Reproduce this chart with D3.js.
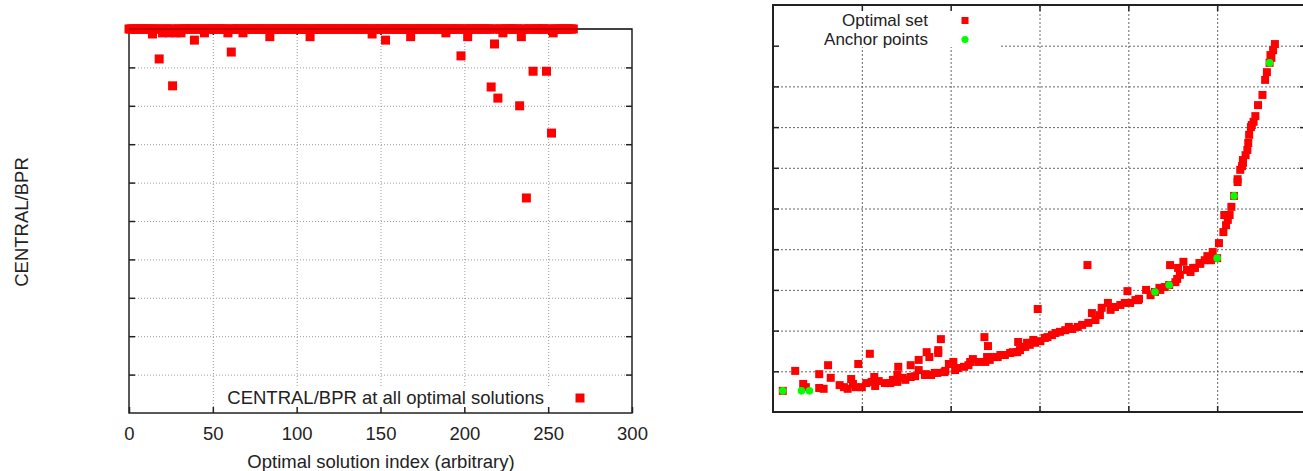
<!DOCTYPE html>
<html lang="en">
<head>
  <meta charset="UTF-8">
  <title>optimal solutions</title>
  <style>
    body { margin: 0; background: #fff; }
    svg { display: block; font-family: "Liberation Sans", Arial, sans-serif; }
    .grid path, .axis path { display: none; }
    .grid line { stroke: #9a9a9a; stroke-dasharray: 1,2; }
    .grid2 line { stroke: #666; stroke-dasharray: 2,2; }
    .axis line { stroke: #222; stroke-width: 1.5; }
    .axis text { font-size: 18.5px; fill: #222; }
  </style>
</head>
<body>
  <svg width="1303" height="471"></svg>
  <script src="https://cdn.jsdelivr.net/npm/d3@7"></script>
  <script>
    // left chart: CENTRAL/BPR per optimal solution (index = position in array)
    var cbprValues = [
      10, 10, 10, 10, 10, 10, 10, 10, 10, 10,
      10, 10, 10, 10, 9.87, 10, 10, 10, 9.22, 10,
      9.9, 10, 10, 10, 9.9, 10, 8.52, 10, 9.9, 10,
      10, 9.9, 10, 10, 10, 10, 10, 10, 10, 9.71,
      10, 10, 10, 10, 10, 9.9, 10, 10, 10, 10,
      10, 10, 10, 10, 10, 10, 10, 10, 10, 9.9,
      10, 9.4, 10, 10, 10, 10, 10, 10, 9.9, 10,
      10, 10, 10, 10, 10, 10, 10, 10, 10, 10,
      10, 10, 10, 10, 9.8, 10, 10, 10, 10, 10,
      10, 10, 10, 10, 10, 10, 10, 10, 10, 10,
      10, 10, 10, 10, 10, 10, 10, 10, 9.8, 10,
      10, 10, 10, 10, 10, 10, 10, 10, 10, 10,
      10, 10, 10, 10, 10, 10, 10, 10, 10, 10,
      10, 10, 10, 10, 10, 10, 10, 10, 10, 10,
      10, 10, 10, 10, 10, 9.87, 10, 10, 10, 10,
      10, 10, 10, 9.71, 10, 10, 10, 10, 10, 10,
      10, 10, 10, 10, 10, 10, 10, 10, 9.8, 10,
      10, 10, 10, 10, 10, 10, 10, 10, 10, 10,
      10, 10, 10, 10, 10, 10, 10, 10, 10, 9.9,
      10, 10, 10, 10, 10, 10, 10, 10, 9.3, 10,
      10, 10, 9.8, 10, 10, 10, 10, 10, 10, 10,
      10, 10, 10, 10, 10, 10, 8.49, 10, 9.61, 10,
      8.2, 10, 10, 9.9, 10, 10, 10, 10, 10, 10,
      10, 10, 10, 8.0, 9.8, 10, 10, 5.6, 10, 10,
      10, 8.9, 10, 10, 10, 10, 10, 10, 10, 8.9,
      10, 10, 7.29, 9.9, 10, 10, 10, 10, 10, 10,
      10, 10, 10, 10, 10, 10
    ];
    var indexTicks = [0, 50, 100, 150, 200, 250, 300];
    var indexGrid = [50, 100, 150, 200, 250];
    var levelGrid = [1, 2, 3, 4, 5, 6, 7, 8, 9];

    // right chart: optimal set and anchor points
    var optX = [0.11, 0.25, 0.34, 0.37, 0.52, 0.52, 0.57, 0.62, 0.65, 0.80,
      0.84, 0.88, 0.93, 1.00, 0.96, 1.09, 1.14, 1.15, 1.19, 1.32,
      1.40, 1.41, 1.40, 1.49, 1.55, 1.55, 1.64, 1.64, 1.72, 1.73,
      1.76, 1.78, 1.86, 1.86, 1.89, 1.85, 1.93, 1.98, 2.03, 2.05,
      2.15, 2.22, 2.25, 2.38, 2.42, 2.39, 2.41, 2.48, 2.56, 2.67,
      2.75, 2.76, 2.86, 2.93, 2.98, 2.80, 3.09, 3.23, 3.33, 3.43,
      3.55, 3.59, 3.70, 3.77, 3.91, 4.02, 4.11, 3.54, 3.99, 4.12,
      4.20, 4.30, 4.35, 4.46, 4.55, 4.47, 4.56, 4.62, 4.66, 4.73,
      4.80, 4.89, 4.93, 4.95, 5.00, 5.02, 5.07, 5.10, 5.08, 5.14,
      5.16, 5.19, 5.23, 5.23, 5.28, 5.29, 5.34, 5.29, 5.35, 5.36,
      5.38, 5.41, 5.43, 5.51, 5.54, 5.56, 5.59, 5.61, 5.63, 5.65,
      1.26, 1.35, 1.46, 1.60, 1.71, 1.82, 1.94, 2.08, 2.20, 2.31,
      2.44, 2.53, 2.61, 2.70, 2.78, 2.84, 2.89, 2.95, 3.01, 3.06,
      3.14, 3.18, 3.29, 3.37, 3.48, 3.63, 3.68, 3.80, 3.85, 3.96,
      4.08, 4.25, 4.36, 4.41, 4.53, 4.58, 4.70, 4.75, 4.81, 4.86,
      4.92, 0.75, 0.90, 1.05, 1.11, 5.12, 5.26, 5.32, 5.39, 5.46,
      5.60];
    var optY = [0.52, 1.01, 0.69, 0.61, 0.93, 0.59, 0.57, 1.15, 0.84, 0.61,
      0.57, 0.81, 0.61, 0.61, 1.18, 1.43, 0.86, 0.64, 0.76, 0.71,
      0.74, 1.11, 0.91, 0.79, 1.15, 0.86, 1.28, 1.03, 0.93, 1.47,
      1.35, 0.91, 1.52, 1.45, 1.79, 0.96, 0.98, 1.18, 1.23, 1.03,
      1.11, 1.23, 1.30, 1.84, 1.62, 1.23, 1.35, 1.35, 1.40, 1.45,
      1.47, 1.72, 1.70, 1.77, 2.53, 1.60, 1.84, 1.97, 2.09, 2.09,
      2.19, 2.43, 2.56, 2.68, 2.63, 2.68, 2.75, 3.61, 2.97, 2.78,
      3.00, 2.95, 3.05, 3.12, 3.27, 3.61, 3.54, 3.69, 3.49, 3.54,
      3.66, 3.83, 3.73, 3.93, 3.78, 4.15, 4.42, 4.59, 4.84, 4.84,
      5.04, 5.31, 5.65, 5.72, 6.04, 6.12, 6.44, 6.19, 6.61, 6.81,
      7.00, 7.13, 7.27, 7.79, 8.16, 8.35, 8.58, 8.70, 8.89, 9.04,
      0.71, 0.79, 0.84, 0.88, 0.91, 0.96, 1.01, 1.08, 1.15, 1.23,
      1.28, 1.35, 1.40, 1.47, 1.52, 1.60, 1.65, 1.70, 1.74, 1.82,
      1.89, 1.94, 2.01, 2.04, 2.14, 2.26, 2.38, 2.51, 2.58, 2.68,
      2.75, 2.87, 3.00, 3.07, 3.19, 3.37, 3.44, 3.54, 3.64, 3.73,
      3.78, 0.66, 0.69, 0.71, 0.74, 4.72, 5.95, 6.31, 7.05, 7.54,
      8.77];
    var anchorX = [0.11, 0.32, 0.41, 4.30, 4.46, 5.00, 5.19, 5.59];
    var anchorY = [0.52, 0.52, 0.52, 2.95, 3.12, 3.78, 5.31, 8.58];
    var rightGridX = [1, 2, 3, 4, 5];
    var rightGridY = [1, 2, 3, 4, 5, 6, 7, 8, 9];

    var svg = d3.select("svg");

    // ---------- left chart ----------
    var x = d3.scaleLinear().domain([0, 300]).range([129, 632]),
      y = d3.scaleLinear().domain([0, 10]).range([413, 29]);
    var gL = svg.append("g");

    gL.append("g")
      .attr("class", "grid")
      .attr("transform", "translate(0,413)")
      .call(d3.axisBottom(x).tickValues(indexGrid).tickSize(-384).tickFormat(""));
    gL.append("g")
      .attr("class", "grid")
      .attr("transform", "translate(129,0)")
      .call(d3.axisLeft(y).tickValues(levelGrid).tickSize(-503).tickFormat(""));

    // legend box hides the grid
    gL.append("rect")
      .attr("x", 214).attr("y", 386).attr("width", 336).attr("height", 26)
      .attr("fill", "#fff");

    gL.append("g")
      .attr("class", "axis")
      .attr("transform", "translate(0,413)")
      .call(d3.axisBottom(x).tickValues(indexTicks).tickSizeInner(-6).tickSizeOuter(0).tickPadding(14));
    gL.append("g")
      .attr("class", "axis")
      .attr("transform", "translate(0,29)")
      .call(d3.axisTop(x).tickValues(indexGrid).tickSizeInner(-6).tickSizeOuter(0).tickFormat(""));
    gL.append("g")
      .attr("class", "axis")
      .attr("transform", "translate(129,0)")
      .call(d3.axisLeft(y).tickValues(levelGrid).tickSizeInner(-6).tickSizeOuter(0).tickFormat(""));
    gL.append("g")
      .attr("class", "axis")
      .attr("transform", "translate(632,0)")
      .call(d3.axisRight(y).tickValues(levelGrid).tickSizeInner(-6).tickSizeOuter(0).tickFormat(""));

    gL.append("rect")
      .attr("x", 129).attr("y", 29).attr("width", 503).attr("height", 384)
      .attr("fill", "none").attr("stroke", "#222").attr("stroke-width", 1.5);

    gL.selectAll(".pt")
      .data(cbprValues)
      .enter()
      .append("rect")
      .attr("class", "pt")
      .attr("x", function(d, i) { return x(i) - 4.5; })
      .attr("y", function(d) { return y(d) - 4.5; })
      .attr("width", 9)
      .attr("height", 9)
      .attr("fill", "#f00");

    // frame line shows through the band
    gL.append("line")
      .attr("x1", 129).attr("x2", 632).attr("y1", 29).attr("y2", 29)
      .attr("stroke", "#000").attr("stroke-opacity", 0.35).attr("stroke-width", 1.5);

    gL.append("text")
      .attr("x", 544).attr("y", 398).attr("dy", "0.35em")
      .attr("text-anchor", "end").style("font-size", "18.5px").attr("fill", "#222")
      .text("CENTRAL/BPR at all optimal solutions");
    gL.append("rect")
      .attr("x", 575.5).attr("y", 393.5).attr("width", 9).attr("height", 9)
      .attr("fill", "#f00");

    gL.append("text")
      .attr("x", 381).attr("y", 468)
      .attr("text-anchor", "middle").style("font-size", "18.5px").attr("fill", "#222")
      .text("Optimal solution index (arbitrary)");
    gL.append("text")
      .attr("transform", "translate(22,222) rotate(-90)")
      .attr("dy", "0.35em")
      .attr("text-anchor", "middle").style("font-size", "18.5px").attr("fill", "#222")
      .text("CENTRAL/BPR");

    // ---------- right chart ----------
    var x2 = d3.scaleLinear().domain([0, 6]).range([773, 1306]),
      y2 = d3.scaleLinear().domain([0, 10]).range([412, 5]);
    var gR = svg.append("g");

    gR.append("g")
      .attr("class", "grid grid2")
      .attr("transform", "translate(0,412)")
      .call(d3.axisBottom(x2).tickValues(rightGridX).tickSize(-407).tickFormat(""));
    gR.append("g")
      .attr("class", "grid grid2")
      .attr("transform", "translate(773,0)")
      .call(d3.axisLeft(y2).tickValues(rightGridY).tickSize(-533).tickFormat(""));

    gR.append("rect")
      .attr("x", 774).attr("y", 6).attr("width", 226).attr("height", 41)
      .attr("fill", "#fff");

    gR.append("g")
      .attr("class", "axis")
      .attr("transform", "translate(0,412)")
      .call(d3.axisBottom(x2).tickValues(rightGridX).tickSizeInner(-6).tickSizeOuter(0).tickFormat(""));
    gR.append("g")
      .attr("class", "axis")
      .attr("transform", "translate(0,5)")
      .call(d3.axisTop(x2).tickValues(rightGridX).tickSizeInner(-6).tickSizeOuter(0).tickFormat(""));
    gR.append("g")
      .attr("class", "axis")
      .attr("transform", "translate(773,0)")
      .call(d3.axisLeft(y2).tickValues(rightGridY).tickSizeInner(-6).tickSizeOuter(0).tickFormat(""));
    gR.append("g")
      .attr("class", "axis")
      .attr("transform", "translate(1306,0)")
      .call(d3.axisRight(y2).tickValues(rightGridY).tickSizeInner(-6).tickSizeOuter(0).tickFormat(""));

    gR.append("rect")
      .attr("x", 773).attr("y", 5).attr("width", 533).attr("height", 407)
      .attr("fill", "none").attr("stroke", "#222").attr("stroke-width", 2);

    var optData = optX.map(function(v, i) { return [v, optY[i]]; });
    var anchorData = anchorX.map(function(v, i) { return [v, anchorY[i]]; });

    gR.selectAll(".opt")
      .data(optData)
      .enter()
      .append("rect")
      .attr("class", "opt")
      .attr("x", function(d) { return x2(d[0]) - 4; })
      .attr("y", function(d) { return y2(d[1]) - 4; })
      .attr("width", 8)
      .attr("height", 8)
      .attr("fill", "#f00");

    gR.selectAll(".anchor")
      .data(anchorData)
      .enter()
      .append("circle")
      .attr("class", "anchor")
      .attr("cx", function(d) { return x2(d[0]); })
      .attr("cy", function(d) { return y2(d[1]); })
      .attr("r", 3.8)
      .attr("fill", "#0f0");

    gR.append("text")
      .attr("x", 928).attr("y", 20.5).attr("dy", "0.35em")
      .attr("text-anchor", "end").style("font-size", "17px").attr("fill", "#222")
      .text("Optimal set");
    gR.append("text")
      .attr("x", 928).attr("y", 39.5).attr("dy", "0.35em")
      .attr("text-anchor", "end").style("font-size", "17px").attr("fill", "#222")
      .text("Anchor points");
    gR.append("rect")
      .attr("x", 961.5).attr("y", 17).attr("width", 7).attr("height", 7)
      .attr("fill", "#f00");
    gR.append("circle")
      .attr("cx", 965).attr("cy", 39.5).attr("r", 3.6)
      .attr("fill", "#0f0");
  </script>
</body>
</html>
